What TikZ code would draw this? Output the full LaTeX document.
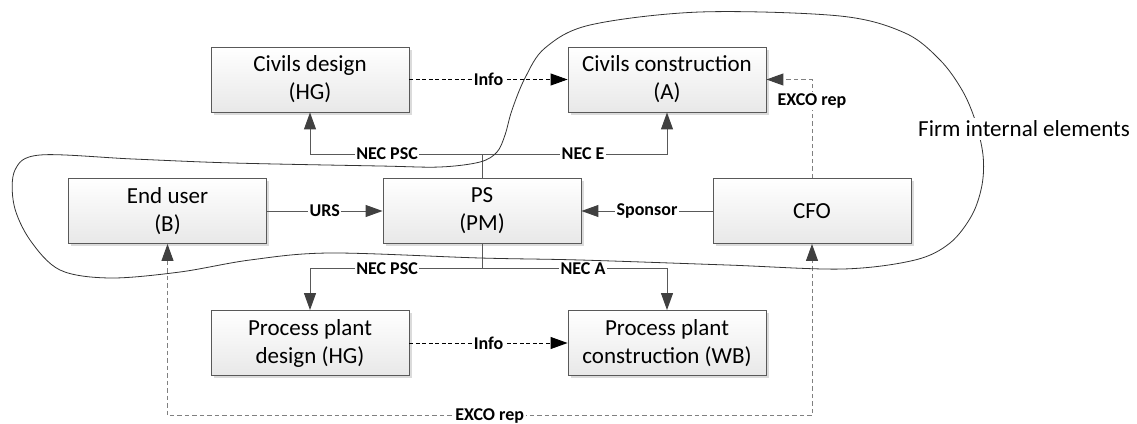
\documentclass[tikz,border=0pt]{standalone}
\usepackage{fontspec}
\setmainfont{Carlito}
\usetikzlibrary{arrows.meta,shadows,calc}

\definecolor{boxline}{HTML}{595959}
\definecolor{conline}{HTML}{595959}
\definecolor{tipgray}{HTML}{404040}
\definecolor{excoline}{HTML}{808080}

\tikzset{
  unit/.style={x=1pt,y=-1pt},
  procbox/.style={draw=boxline, line width=0.9pt, top color=white, bottom color=black!9,
    minimum width=198pt, minimum height=65pt, align=center, inner sep=2pt,
    font=\fontsize{23}{28}\selectfont,
    general shadow={fill=black!14, shadow xshift=2.5pt, shadow yshift=-2.5pt}},
  lbl/.style={fill=white, inner sep=1.5pt, font=\fontsize{18}{22}\selectfont\bfseries},
  tip/.tip={Triangle[length=17pt,width=12pt,color=tipgray]},
  blacktip/.tip={Triangle[length=17pt,width=12pt,color=black]},
  conn/.style={draw=conline, line width=1pt},
  infolink/.style={draw=black, line width=0.9pt, dash pattern=on 4pt off 2.5pt, -blacktip},
  excolink/.style={draw=excoline, line width=1pt, dash pattern=on 4.5pt off 3pt},
  blob/.style={draw=black!80, line width=0.8pt},
}

\begin{document}
\begin{tikzpicture}[unit]
\useasboundingbox (0,0) rectangle (1137,423);

% organisation boxes
\node[procbox] (cd)  at (310,79.5) {Civils design\\(HG)};
\node[procbox] (cc)  at (667,79.5) {Civils construction\\(A)};
\node[procbox] (eu)  at (167.5,211) {End user\\(B)};
\node[procbox] (ps)  at (482,211) {PS\\(PM)};
\node[procbox] (cfo) at (812,211) {CFO};
\node[procbox] (ppd) at (310,343) {Process plant\\design (HG)};
\node[procbox] (ppc) at (667,343) {Process plant\\construction (WB)};

% junction points of the contract lines
\coordinate (jt) at ($(ps.north)+(0,-24)$);
\coordinate (jb) at ($(ps.south)+(0,25)$);
\coordinate (eb) at ($(eu.south)+(0,172)$);

% contracts from PS
\draw[conn] (ps.north) -- (jt);
\draw[conn,-tip] (jt) -| node[lbl,pos=0.276] {NEC PSC} (cd.south);
\draw[conn,-tip] (jt) -| node[lbl,pos=0.273] {NEC E} (cc.south);
\draw[conn] (ps.south) -- (jb);
\draw[conn,-tip] (jb) -| node[lbl,pos=0.276] {NEC PSC} (ppd.north);
\draw[conn,-tip] (jb) -| node[lbl,pos=0.273] {NEC A} (ppc.north);

% requirement and sponsorship
\draw[conn,-tip] (eu.east) -- node[lbl] {URS} (ps.west);
\draw[conn,-tip] (cfo.west) -- node[lbl] {Sponsor} (ps.east);

% information flows
\draw[infolink] (cd.east) -- node[lbl] {Info} (cc.west);
\draw[infolink] (ppd.east) -- node[lbl] {Info} (ppc.west);

% executive committee representation
\draw[excolink,-tip] (cfo.north) |- node[lbl,pos=0.39] {EXCO rep} (cc.east);
\draw[excolink,tip-tip] (eu.south) -- (eb) -| node[lbl,pos=0.25] {EXCO rep} (cfo.south);

% boundary of the firm
\draw[blob] plot[smooth cycle, tension=0.55] coordinates {
  (700,12) (840,16) (905,33) (940,60) (962,90) (975,120) (983,155) (982,185)
  (972,215) (950,243) (915,260) (843,269) (727,265) (580,260) (480,258)
  (330,253) (250,260) (180,272) (110,278) (60,270) (30,240) (14,205) (15,170)
  (40,155) (133,159) (233,163) (380,166) (440,167) (480,162) (497,152)
  (505,135) (512,110) (525,78) (545,48) (590,25)};
\node[fill=white, inner sep=3pt, font=\fontsize{23}{28}\selectfont] (firm) at (1024,129) {Firm internal elements};
\end{tikzpicture}
\end{document}
